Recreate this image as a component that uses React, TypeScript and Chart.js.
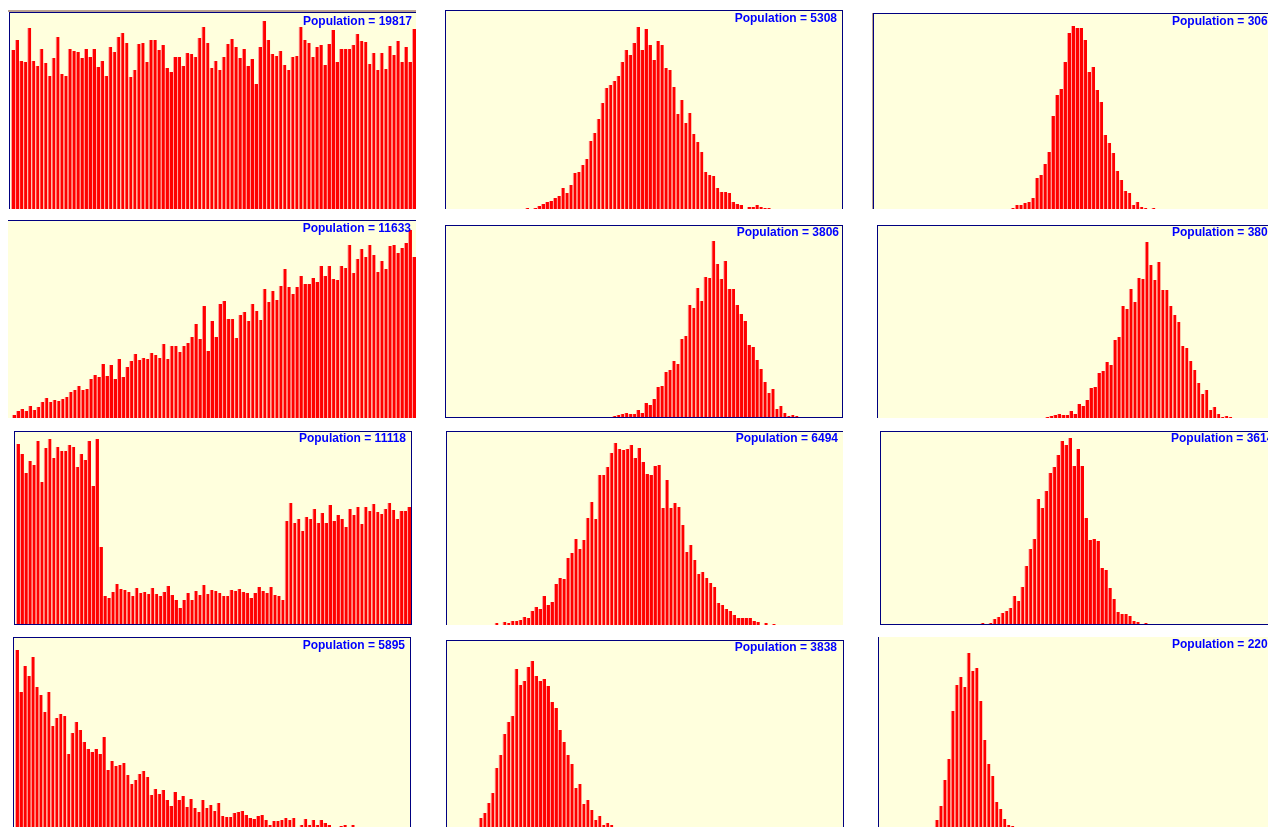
import React, { useEffect, useRef } from "react";
import { Chart, registerables } from "chart.js";
Chart.register(...registerables);

// ---------- DATA ----------
const binLabels: string[] = Array.from({ length: 100 }, (_, i) => String(i + 1));

const populations = [19817, 5308, 3064, 11633, 3806, 3806, 11118, 6494, 3614, 5895, 3838, 2203];

const uniformValues = [
  159, 169, 148, 147, 181, 148, 143, 160, 146, 133,
  151, 172, 135, 133, 160, 158, 157, 151, 160, 152,
  160, 142, 148, 133, 162, 157, 172, 176, 166, 132,
  139, 165, 166, 147, 169, 169, 159, 164, 141, 137,
  152, 152, 143, 156, 155, 152, 171, 182, 166, 141,
  148, 139, 152, 165, 170, 162, 151, 160, 143, 150,
  125, 162, 188, 169, 155, 153, 158, 144, 139, 152,
  153, 182, 169, 166, 152, 162, 164, 144, 165, 179,
  147, 160, 160, 160, 164, 175, 168, 167, 145, 156,
  139, 156, 140, 163, 154, 168, 147, 162, 147, 180,
];

const normalWideValues = [
  0, 0, 0, 0, 0, 0, 0, 0, 0, 0,
  0, 0, 0, 0, 0, 0, 0, 0, 0, 0,
  1, 0, 1, 3, 5, 7, 8, 11, 13, 21,
  16, 24, 36, 37, 44, 50, 68, 76, 90, 106,
  121, 124, 128, 133, 147, 159, 154, 166, 182, 159,
  180, 164, 149, 168, 164, 141, 139, 122, 95, 109,
  86, 96, 75, 67, 57, 37, 34, 33, 21, 17,
  17, 16, 7, 5, 4, 0, 2, 2, 4, 2,
  1, 1, 0, 0, 0, 0, 0, 0, 0, 0,
  0, 0, 0, 0, 0, 0, 0, 0, 0, 0,
];

const normalNarrowValues = [
  0, 0, 0, 0, 0, 0, 0, 0, 0, 0,
  0, 0, 0, 0, 0, 0, 0, 0, 0, 0,
  0, 0, 0, 0, 0, 0, 0, 0, 0, 0,
  0, 0, 0, 0, 1, 4, 4, 6, 7, 11,
  31, 34, 45, 57, 93, 114, 120, 147, 176, 183,
  181, 181, 169, 137, 142, 119, 107, 74, 66, 56,
  38, 29, 18, 16, 4, 7, 2, 1, 0, 1,
  0, 0, 0, 0, 0, 0, 0, 0, 0, 0,
  0, 0, 0, 0, 0, 0, 0, 0, 0, 0,
  0, 0, 0, 0, 0, 0, 0, 0, 0, 0,
];

const risingValues = [
  3, 7, 9, 7, 12, 8, 11, 16, 20, 16,
  18, 17, 19, 21, 26, 28, 32, 28, 29, 39,
  43, 41, 54, 42, 53, 39, 59, 41, 51, 57,
  64, 58, 60, 59, 65, 63, 60, 74, 59, 72,
  72, 66, 72, 75, 81, 94, 79, 112, 67, 97,
  81, 114, 117, 99, 99, 80, 103, 106, 97, 114,
  107, 98, 129, 116, 127, 118, 132, 149, 131, 124,
  131, 142, 134, 134, 140, 136, 152, 142, 152, 139,
  138, 152, 150, 173, 145, 159, 169, 161, 173, 163,
  146, 157, 149, 172, 173, 165, 170, 175, 188, 161,
];

const shiftedValues = [
  0, 0, 0, 0, 0, 0, 0, 0, 0, 0,
  0, 0, 0, 0, 0, 0, 0, 0, 0, 0,
  0, 0, 0, 0, 0, 0, 0, 0, 0, 0,
  0, 0, 0, 0, 0, 0, 0, 0, 0, 0,
  0, 0, 1, 2, 3, 4, 3, 3, 7, 4,
  14, 12, 18, 30, 31, 45, 47, 56, 53, 78,
  81, 112, 109, 129, 116, 140, 139, 176, 153, 138,
  156, 128, 128, 112, 103, 96, 72, 70, 57, 48,
  35, 24, 28, 8, 11, 4, 1, 2, 1, 0,
  0, 0, 0, 0, 0, 0, 0, 0, 0, 0,
];

const blockValues = [
  180, 170, 151, 163, 159, 183, 142, 176, 185, 166,
  177, 173, 173, 179, 177, 157, 170, 164, 183, 138,
  185, 77, 28, 26, 32, 40, 35, 34, 32, 28,
  36, 31, 32, 30, 36, 30, 28, 32, 38, 29,
  24, 16, 24, 31, 24, 33, 29, 39, 30, 34,
  33, 31, 28, 28, 34, 33, 35, 32, 31, 26,
  31, 37, 33, 31, 37, 29, 28, 24, 103, 121,
  101, 105, 93, 107, 105, 115, 101, 111, 101, 119,
  103, 109, 105, 97, 115, 109, 117, 100, 117, 113,
  120, 112, 110, 115, 121, 114, 105, 113, 113, 117,
];

const normalMidValues = [
  0, 0, 0, 0, 0, 0, 0, 0, 0, 0,
  0, 0, 2, 0, 3, 2, 4, 4, 5, 8,
  7, 14, 18, 16, 29, 20, 23, 41, 47, 46,
  67, 72, 86, 76, 85, 107, 123, 106, 150, 150,
  158, 172, 182, 176, 175, 176, 180, 167, 177, 163,
  151, 150, 159, 160, 117, 145, 117, 122, 118, 100,
  73, 80, 65, 51, 53, 47, 42, 38, 22, 20,
  16, 14, 10, 7, 7, 7, 7, 4, 3, 0,
  2, 0, 1, 0, 0, 0, 0, 0, 0, 0,
  0, 0, 0, 0, 0, 0, 0, 0, 0, 0,
];

const normalLeftValues = [
  0, 0, 0, 0, 0, 0, 0, 0, 0, 0,
  0, 0, 0, 0, 0, 0, 0, 0, 0, 0,
  0, 0, 0, 0, 0, 1, 0, 1, 5, 7,
  11, 13, 16, 28, 23, 37, 58, 75, 85, 125,
  116, 133, 151, 157, 169, 183, 179, 186, 158, 175,
  158, 106, 84, 85, 83, 56, 54, 36, 25, 12,
  10, 10, 8, 3, 2, 0, 1, 0, 0, 0,
  0, 0, 0, 0, 0, 0, 0, 0, 0, 0,
  0, 0, 0, 0, 0, 0, 0, 0, 0, 0,
  0, 0, 0, 0, 0, 0, 0, 0, 0, 0,
];

const decayValues = [
  177, 135, 161, 151, 170, 140, 132, 115, 135, 101,
  109, 113, 111, 73, 94, 105, 97, 85, 78, 75,
  78, 73, 90, 57, 66, 61, 62, 64, 52, 43,
  47, 53, 56, 50, 32, 38, 33, 37, 27, 21,
  35, 27, 31, 20, 28, 19, 15, 27, 19, 22,
  16, 24, 11, 10, 10, 14, 15, 16, 12, 9,
  8, 11, 12, 7, 2, 6, 6, 7, 9, 7,
  9, 0, 2, 8, 2, 7, 2, 7, 4, 2,
  0, 0, 1, 2, 0, 2, 0, 0, 0, 0,
  0, 0, 0, 0, 0, 0, 0, 0, 0, 0,
];

const skewLeftValues = [
  0, 0, 0, 0, 0, 0, 0, 0, 9, 14,
  24, 34, 59, 72, 93, 105, 111, 158, 142, 146,
  160, 166, 151, 146, 148, 141, 125, 119, 97, 85,
  72, 63, 39, 43, 23, 27, 17, 7, 11, 2,
  4, 2, 0, 0, 0, 0, 0, 0, 0, 0,
  0, 0, 0, 0, 0, 0, 0, 0, 0, 0,
  0, 0, 0, 0, 0, 0, 0, 0, 0, 0,
  0, 0, 0, 0, 0, 0, 0, 0, 0, 0,
  0, 0, 0, 0, 0, 0, 0, 0, 0, 0,
  0, 0, 0, 0, 0, 0, 0, 0, 0, 0,
];

const narrowLeftValues = [
  0, 0, 0, 0, 0, 0, 0, 0, 0, 0,
  0, 0, 0, 0, 7, 21, 47, 68, 116, 142,
  150, 140, 174, 156, 159, 126, 87, 63, 51, 25,
  18, 8, 2, 1, 0, 0, 0, 0, 0, 0,
  0, 0, 0, 0, 0, 0, 0, 0, 0, 0,
  0, 0, 0, 0, 0, 0, 0, 0, 0, 0,
  0, 0, 0, 0, 0, 0, 0, 0, 0, 0,
  0, 0, 0, 0, 0, 0, 0, 0, 0, 0,
  0, 0, 0, 0, 0, 0, 0, 0, 0, 0,
  0, 0, 0, 0, 0, 0, 0, 0, 0, 0,
];

const panelSeries = [
  uniformValues, normalWideValues, normalNarrowValues,
  risingValues, shiftedValues, shiftedValues,
  blockValues, normalMidValues, normalLeftValues,
  decayValues, skewLeftValues, narrowLeftValues,
];

// ---------- LAYOUT (positions / styles) ----------
type Layout = {
  x: number; y: number; w: number; h: number; pad: number;
  bt?: boolean; bl?: boolean; br?: boolean; bb?: boolean;
  lx: number; ly: number; align: "left" | "right";
  tanTop?: boolean; tanLeft?: boolean;
};

const layouts: Layout[] = [
  { x: 10, y: 13, w: 406, h: 196, pad: 1, bt: true, bl: true, lx: 412, ly: 25, align: "right", tanTop: true },
  { x: 446, y: 11, w: 396, h: 198, pad: 0, bt: true, bl: true, br: true, lx: 837, ly: 22, align: "right" },
  { x: 874, y: 14, w: 402, h: 195, pad: 0, bt: true, bl: true, lx: 1172, ly: 25, align: "left", tanLeft: true },
  { x: 8, y: 221, w: 408, h: 197, pad: 4, bt: true, lx: 411, ly: 232, align: "right" },
  { x: 446, y: 226, w: 396, h: 191, pad: 0, bt: true, bl: true, br: true, bb: true, lx: 839, ly: 236, align: "right" },
  { x: 878, y: 226, w: 398, h: 192, pad: 0, bt: true, bl: true, lx: 1172, ly: 236, align: "left" },
  { x: 15, y: 432, w: 396, h: 192, pad: 1, bt: true, bl: true, br: true, bb: true, lx: 406, ly: 442, align: "right" },
  { x: 447, y: 432, w: 396, h: 193, pad: 0, bt: true, bl: true, lx: 838, ly: 442, align: "right" },
  { x: 881, y: 432, w: 398, h: 192, pad: 0, bt: true, bl: true, bb: true, lx: 1171, ly: 442, align: "left" },
  { x: 14, y: 638, w: 396, h: 189, pad: 1, bt: true, bl: true, br: true, lx: 405, ly: 649, align: "right" },
  { x: 447, y: 641, w: 396, h: 186, pad: 0, bt: true, bl: true, br: true, lx: 837, ly: 651, align: "right" },
  { x: 879, y: 637, w: 398, h: 190, pad: 0, bl: true, lx: 1172, ly: 648, align: "left" },
];

const PANEL_BG = "#FFFFDD";
const BORDER = "1px solid #000080";
const BAR_RED = "#FF0000";
const BAR_EDGE = "#FF9E9E";
const LABEL_BLUE = "#0000FF";

function Panel({ values, population, lay }: { values: number[]; population: number; lay: Layout }) {
  const ref = useRef<HTMLCanvasElement | null>(null);
  useEffect(() => {
    const canvas = ref.current;
    if (!canvas) return;
    const bgPlugin = {
      id: "panelBg",
      beforeDraw(chart: any) {
        const c = chart.ctx;
        c.save();
        c.fillStyle = PANEL_BG;
        c.fillRect(0, 0, chart.width, chart.height);
        c.restore();
      },
    };
    const labelPlugin = {
      id: "popLabel",
      afterDatasetsDraw(chart: any) {
        const c = chart.ctx;
        c.save();
        c.font = 'bold 12px "Liberation Sans", Arial, sans-serif';
        c.fillStyle = LABEL_BLUE;
        c.textAlign = lay.align;
        c.textBaseline = "alphabetic";
        c.fillText("Population = " + population, lay.lx - lay.x, lay.ly - lay.y);
        c.restore();
      },
    };
    const chart = new Chart(canvas, {
      type: "bar",
      data: {
        labels: binLabels,
        datasets: [
          {
            data: values,
            backgroundColor: BAR_RED,
            borderColor: BAR_EDGE,
            borderWidth: { left: 1, top: 0, right: 0, bottom: 0 },
            borderSkipped: false,
            inflateAmount: 0,
            barPercentage: 1,
            categoryPercentage: 1,
          } as any,
        ],
      },
      options: {
        animation: false,
        responsive: false,
        maintainAspectRatio: false,
        events: [],
        layout: { padding: { left: lay.pad, right: 0, top: 0, bottom: 0 } },
        scales: {
          x: { display: false, grid: { display: false } },
          y: { display: false, min: 0, max: lay.h, grid: { display: false } },
        },
        plugins: { legend: { display: false }, tooltip: { enabled: false }, title: { display: false } },
      },
      plugins: [bgPlugin, labelPlugin],
    });
    return () => chart.destroy();
  }, [values, population, lay]);

  const wrapStyle: React.CSSProperties = {
    position: "absolute",
    left: lay.x - (lay.bl ? 1 : 0),
    top: lay.y - (lay.bt ? 1 : 0),
    borderTop: lay.bt ? BORDER : "none",
    borderLeft: lay.bl ? BORDER : "none",
    borderRight: lay.br ? BORDER : "none",
    borderBottom: lay.bb ? BORDER : "none",
    lineHeight: 0,
  };
  return (
    <>
      {lay.tanTop && (
        <div style={{ position: "absolute", left: lay.x - 2, top: lay.y - 3, width: lay.w + 2, height: 2, background: "#B8A090" }} />
      )}
      {lay.tanLeft && (
        <div style={{ position: "absolute", left: lay.x - 2, top: lay.y - 1, width: 1, height: lay.h + 1, background: "#B8A090" }} />
      )}
      <div style={wrapStyle}>
        <canvas ref={ref} width={lay.w} height={lay.h} style={{ display: "block", width: lay.w, height: lay.h }} />
      </div>
    </>
  );
}

export default function App() {
  return (
    <div
      style={{
        position: "fixed",
        left: 0,
        top: 0,
        width: 1268,
        height: 827,
        overflow: "hidden",
        background: "#FFFFFF",
      }}
    >
      {layouts.map((lay, i) => (
        <Panel key={i} values={panelSeries[i]} population={populations[i]} lay={lay} />
      ))}
    </div>
  );
}
